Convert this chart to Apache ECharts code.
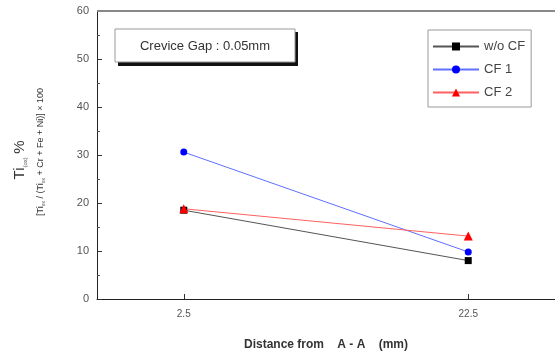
<!DOCTYPE html>
<html><head><meta charset="utf-8">
<script src="https://cdn.jsdelivr.net/npm/echarts@6/dist/echarts.min.js"></script>
<style>html,body{margin:0;padding:0;background:#fff}#c{width:555px;height:362px}</style>
</head><body><div id="c"></div>
<script>
const xTicks = [2.5, 22.5];
const seriesNames = ['w/o CF', 'CF 1', 'CF 2'];
const woCF = [18.5, 8.0];
const cf1 = [30.6, 9.8];
const cf2 = [18.8, 13.1];
const yTicks = [0, 10, 20, 30, 40, 50, 60];

function pts(vals){ return xTicks.map((x,i)=>[x, vals[i]]); }

const chart = echarts.init(document.getElementById('c'), null, {renderer:'canvas'});
const F = 'Arial, "Liberation Sans", sans-serif';
chart.setOption({
  animation:false,
  backgroundColor:'#fff',
  grid:{left:97, top:11, right:-10, bottom:63},
  xAxis:{type:'value', min:-3.6, max:28.6,
    axisLine:{onZero:false, lineStyle:{color:'#222', width:1}},
    splitLine:{show:false},
    axisTick:{inside:true, length:5, customValues:xTicks, lineStyle:{color:'#333'}},
    axisLabel:{customValues:xTicks, color:'#555', fontSize:10, fontFamily:F, margin:10, formatter:v=>String(v)}
  },
  yAxis:{type:'value', min:0, max:60, interval:10,
    axisLine:{show:true, onZero:false, lineStyle:{color:'#222', width:1}},
    splitLine:{show:false},
    axisTick:{inside:true, length:5, lineStyle:{color:'#333'}},
    minorTick:{show:true, splitNumber:2, length:3, lineStyle:{color:'#555'}},
    axisLabel:{color:'#555', fontSize:11, fontFamily:F, margin:8}
  },
  legend:{orient:'vertical', left:428, top:30, width:119, height:72,
    padding:[10,6,8,4], itemGap:10, itemWidth:46, itemHeight:10,
    borderColor:'#999', borderWidth:1, backgroundColor:'#fff',
    textStyle:{fontSize:13, fontFamily:F, color:'#444'},
    data:seriesNames},
  series:[
    {name:seriesNames[0], type:'line', data:pts(woCF), symbol:'rect', symbolSize:7,
     itemStyle:{color:'#000'}, lineStyle:{color:'#555', width:1}},
    {name:seriesNames[1], type:'line', data:pts(cf1), symbol:'circle', symbolSize:7,
     itemStyle:{color:'#0000ff'}, lineStyle:{color:'#6070ff', width:1}},
    {name:seriesNames[2], type:'line', data:pts(cf2), symbol:'triangle', symbolSize:9,
     itemStyle:{color:'#ff0000'}, lineStyle:{color:'#ff6060', width:1}}
  ],
  graphic:[
    {type:'line', shape:{x1:97, y1:11, x2:555, y2:11}, style:{stroke:'#888', lineWidth:2}, z:10},
    {type:'rect', shape:{x:118, y:32, width:180, height:34}, style:{fill:'#111'}, z:10},
    {type:'rect', shape:{x:115, y:29, width:180, height:33}, style:{fill:'#fff', stroke:'#999', lineWidth:1}, z:11},
    {type:'text', x:205, y:46, z:12, style:{text:'Crevice Gap : 0.05mm', font:'13px '+F, fill:'#333', align:'center', verticalAlign:'middle'}},
    {type:'text', x:20, y:160, rotation:Math.PI/2, z:12,
     style:{text:'{a|Ti}{s|(ox)} {a|%}', align:'center', verticalAlign:'middle',
       rich:{a:{font:'15px '+F, fill:'#333'}, s:{font:'6px '+F, fill:'#555', padding:[10,0,0,0]}}}},
    {type:'text', x:41, y:152, rotation:Math.PI/2, z:12,
     style:{text:'{b|[Ti}{s|ox}{b| / (Ti}{s|ox}{b| + Cr + Fe + Ni)] × 100}', align:'center', verticalAlign:'middle',
       rich:{b:{font:'9px '+F, fill:'#333'}, s:{font:'5px '+F, fill:'#555', padding:[5,0,0,0]}}}},
    {type:'text', x:326, y:345, z:12, style:{text:'Distance from    A - A    (mm)', font:'bold 12px '+F, fill:'#333', align:'center', verticalAlign:'middle'}}
  ]
});
</script></body></html>
